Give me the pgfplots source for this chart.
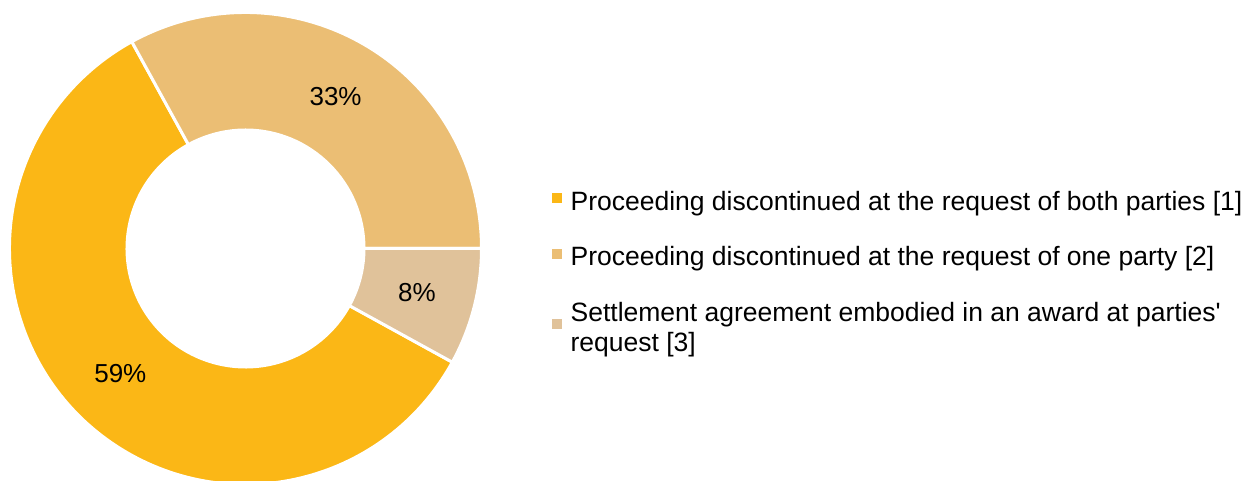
\documentclass[border=0pt]{standalone}
\usepackage{fontspec}
\setmainfont{Liberation Sans}[Ligatures=TeXOff]
\usepackage{pgfplots}
\usepackage{pgfplotstable}
\pgfplotsset{compat=1.18}
\definecolor{cA}{RGB}{251,183,22}
\definecolor{cB}{RGB}{235,190,116}
\definecolor{cC}{RGB}{224,194,154}
\pgfplotstableread{
idx value
0 59
1 33
2 8
}\shares
\pgfplotstablegetelem{0}{value}\of\shares \let\vA\pgfplotsretval
\pgfplotstablegetelem{1}{value}\of\shares \let\vB\pgfplotsretval
\pgfplotstablegetelem{2}{value}\of\shares \let\vC\pgfplotsretval
\begin{document}
\begin{tikzpicture}
\pgfmathsetmacro\sA{-28.8}
\pgfmathsetmacro\eA{\sA-3.6*\vA}
\pgfmathsetmacro\eB{\eA-3.6*\vB}
\pgfmathsetmacro\eC{\eB-3.6*\vC}
\def\cx{245.5}\def\cy{232.5}
\def\Ro{236}\def\Ri{118.5}\def\Rl{177}
\pgfmathsetmacro\Rd{\Ro-\Ri}
\pgfmathsetmacro\lAx{\cx+\Rl*cos((\sA+\eA)/2)}\pgfmathsetmacro\lAy{\cy+\Rl*sin((\sA+\eA)/2)}
\pgfmathsetmacro\lBx{\cx+\Rl*cos((\eA+\eB)/2)}\pgfmathsetmacro\lBy{\cy+\Rl*sin((\eA+\eB)/2)}
\pgfmathsetmacro\lCx{\cx+\Rl*cos((\eB+\eC)/2)}\pgfmathsetmacro\lCy{\cy+\Rl*sin((\eB+\eC)/2)}
\begin{axis}[
  hide axis, scale only axis,
  width=1258pt, height=481pt,
  xmin=0, xmax=1258, ymin=0, ymax=481,
  legend style={at={(axis cs:552,209)}, anchor=west, draw=none, fill=none,
    font=\fontsize{26.5}{30}\selectfont, row sep=35pt, column sep=9pt,
    inner sep=0pt, nodes={align=left, inner sep=0pt}},
  legend cell align=left,
  legend image code/.code={\fill[#1] (0pt,-1pt) rectangle (9pt,8pt);},
]
\addlegendimage{cA}
\addlegendimage{cB}
\addlegendimage{cC}
\legend{Proceeding discontinued at the request of both parties [1],
  Proceeding discontinued at the request of one party [2],
  {Settlement agreement embodied in an award at parties'\\request [3]}}
\filldraw[fill=cA, draw=white, line width=3pt] (axis cs:\cx,\cy) ++(\sA:\Ro pt)
  arc[start angle=\sA, end angle=\eA, radius=\Ro pt] -- ++(\eA:-\Rd pt)
  arc[start angle=\eA, end angle=\sA, radius=\Ri pt] -- cycle;
\filldraw[fill=cB, draw=white, line width=3pt] (axis cs:\cx,\cy) ++(\eA:\Ro pt)
  arc[start angle=\eA, end angle=\eB, radius=\Ro pt] -- ++(\eB:-\Rd pt)
  arc[start angle=\eB, end angle=\eA, radius=\Ri pt] -- cycle;
\filldraw[fill=cC, draw=white, line width=3pt] (axis cs:\cx,\cy) ++(\eB:\Ro pt)
  arc[start angle=\eB, end angle=\eC, radius=\Ro pt] -- ++(\eC:-\Rd pt)
  arc[start angle=\eC, end angle=\eB, radius=\Ri pt] -- cycle;
\node[font=\fontsize{26}{30}\selectfont] at (axis cs:\lAx,\lAy) {\vA\%};
\node[font=\fontsize{26}{30}\selectfont] at (axis cs:\lBx,\lBy) {\vB\%};
\node[font=\fontsize{26}{30}\selectfont] at (axis cs:\lCx,\lCy) {\vC\%};
\end{axis}
\pgfresetboundingbox
\useasboundingbox (0,0) rectangle (1258pt,481pt);
\end{tikzpicture}
\end{document}
